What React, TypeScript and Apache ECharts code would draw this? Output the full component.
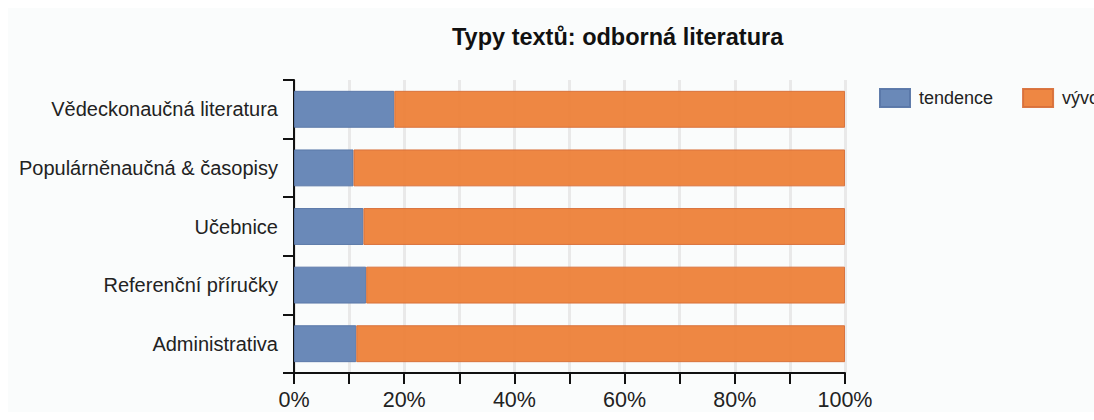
import React, { useEffect, useRef } from "react";
import * as echarts from "echarts";

const categories = [
  "Vědeckonaučná literatura",
  "Populárněnaučná & časopisy",
  "Učebnice",
  "Referenční příručky",
  "Administrativa",
];
const tendence = [18.2, 10.8, 12.6, 13.1, 11.3];
const vyvoj = [81.8, 89.2, 87.4, 86.9, 88.7];
const seriesNames = ["tendence", "vývoj"];
const titleText = "Typy textů: odborná literatura";

export default function App() {
  const ref = useRef<HTMLDivElement>(null);
  useEffect(() => {
    if (!ref.current) return;
    const chart = echarts.init(ref.current, null, { renderer: "svg" });
    const font = "'Liberation Sans', Arial, sans-serif";
    chart.setOption({
      animation: false,
      backgroundColor: "#fafcfc",
      textStyle: { fontFamily: font },
      title: {
        text: titleText,
        left: 444,
        top: 17,
        padding: 0,
        textStyle: { fontFamily: font, fontSize: 23.5, fontWeight: "bold", color: "#111" },
      },
      legend: {
        left: 871,
        top: 80,
        padding: 0,
        itemWidth: 30,
        itemHeight: 18,
        itemGap: 29,
        icon: "rect",
        textStyle: { fontFamily: font, fontSize: 18, color: "#222", padding: [0, 0, 0, 4] },
        data: seriesNames,
      },
      grid: { left: 286, top: 72, width: 551, height: 293, containLabel: false },
      xAxis: {
        type: "value",
        min: 0,
        max: 100,
        interval: 10,
        axisLine: { show: true, lineStyle: { color: "#111", width: 2 } },
        axisTick: { show: true, length: 11, lineStyle: { color: "#111", width: 2 } },
        axisLabel: {
          margin: 16,
          fontSize: 21.5,
          color: "#222",
          fontFamily: font,
          formatter: (v: number) => (v % 20 === 0 ? v + "%" : ""),
        },
        splitLine: { show: true, lineStyle: { color: "#e9e9e9", width: 3 } },
      },
      yAxis: {
        type: "category",
        data: categories,
        inverse: true,
        axisLine: { show: true, lineStyle: { color: "#111", width: 2 } },
        axisTick: { show: true, length: 11, lineStyle: { color: "#111", width: 2 } },
        axisLabel: { margin: 16, fontSize: 20, color: "#222", fontFamily: font },
        splitLine: { show: false },
      },
      series: [
        {
          name: seriesNames[0],
          type: "bar",
          stack: "total",
          barWidth: "63%",
          data: tendence,
          itemStyle: { color: "#6585b6", borderColor: "#5a78a8", borderWidth: 1, opacity: 0.97 },
        },
        {
          name: seriesNames[1],
          type: "bar",
          stack: "total",
          barWidth: "63%",
          data: vyvoj,
          itemStyle: { color: "#ed8139", borderColor: "#d8703a", borderWidth: 1, opacity: 0.95 },
        },
      ],
    });
    return () => chart.dispose();
  }, []);
  return (
    <div style={{ position: "fixed", left: 8, top: 8, width: 1086, height: 404, overflow: "hidden" }}>
      <div ref={ref} style={{ width: 1140, height: 404 }} />
    </div>
  );
}
